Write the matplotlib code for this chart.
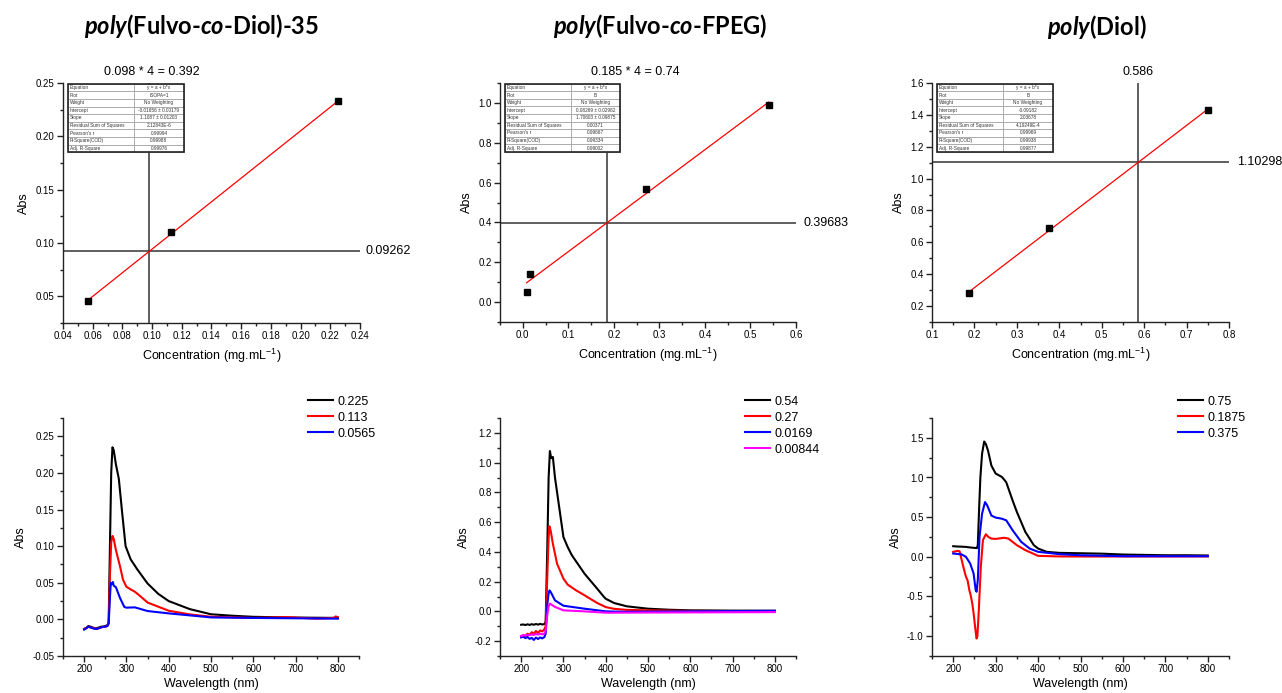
import matplotlib
matplotlib.use("Agg")
import matplotlib.pyplot as plt
from matplotlib.ticker import MultipleLocator, FormatStrFormatter
from matplotlib.patches import Rectangle

plt.rcParams['font.family'] = ['Liberation Sans', 'DejaVu Sans']
plt.rcParams['axes.unicode_minus'] = False
plt.rcParams['mathtext.fontset'] = 'custom'
plt.rcParams['mathtext.rm'] = 'Liberation Sans'
plt.rcParams['mathtext.it'] = 'Liberation Sans:italic'
plt.rcParams['mathtext.bf'] = 'Lato:bold'
plt.rcParams['mathtext.bfit'] = 'Lato:italic:bold'

W, H = 1282, 693

# ---------------- calibration data ----------------
titles = [r"$\mathbfit{poly}$(Fulvo-$\mathbfit{co}$-Diol)-35",
          r"$\mathbfit{poly}$(Fulvo-$\mathbfit{co}$-FPEG)",
          r"$\mathbfit{poly}$(Diol)"]

conc_1 = [0.0565, 0.113, 0.225]
abs_1 = [0.0455, 0.110, 0.233]
fit_1 = (-0.01656, 1.1087)
cross_1 = (0.098, 0.09262)
note_1 = "0.098 * 4 = 0.392"
table_1 = [["Equation", "y = a + b*x"], ["Plot", "ISOPA=1"], ["Weight", "No Weighting"],
           ["Intercept", "-0.01656 ± 0.00179"], ["Slope", "1.1087 ± 0.01203"],
           ["Residual Sum of Squares", "2.12843E-6"], ["Pearson's r", "0.99994"],
           ["R-Square(COD)", "0.99988"], ["Adj. R-Square", "0.99976"]]

conc_2 = [0.00844, 0.0169, 0.27, 0.54]
abs_2 = [0.053, 0.143, 0.570, 0.990]
fit_2 = (0.08269, 1.70603)
cross_2 = (0.185, 0.39683)
note_2 = "0.185 * 4 = 0.74"
table_2 = [["Equation", "y = a + b*x"], ["Plot", "B"], ["Weight", "No Weighting"],
           ["Intercept", "0.08269 ± 0.02982"], ["Slope", "1.70603 ± 0.09875"],
           ["Residual Sum of Squares", "0.00371"], ["Pearson's r", "0.99667"],
           ["R-Square(COD)", "0.99334"], ["Adj. R-Square", "0.99002"]]

conc_3 = [0.1875, 0.375, 0.75]
abs_3 = [0.280, 0.690, 1.430]
fit_3 = (-0.09182, 2.03678)
cross_3 = (0.586, 1.10298)
note_3 = "0.586"
table_3 = [["Equation", "y = a + b*x"], ["Plot", "B"], ["Weight", "No Weighting"],
           ["Intercept", "-0.09182"], ["Slope", "2.03678"],
           ["Residual Sum of Squares", "4.19249E-4"], ["Pearson's r", "0.99969"],
           ["R-Square(COD)", "0.99938"], ["Adj. R-Square", "0.99877"]]

# ---------------- spectra ----------------
# poly(Fulvo-co-Diol)-35
s1_labels = ["0.225", "0.113", "0.0565"]
s1_colors = ["black", "red", "blue"]
s1_wl = [
    [200, 205, 210, 215, 220, 225, 230, 235, 240, 245, 250, 255, 258, 261, 264, 267, 270, 275, 282, 290, 298, 310,
     326, 350, 375, 400, 450, 500, 550, 600, 700, 800],
    [200, 205, 210, 215, 220, 225, 230, 235, 240, 245, 250, 255, 258, 261, 264, 267, 270, 275, 285, 292, 300, 310,
     320, 330, 350, 400, 450, 500, 600, 680, 750, 790, 795, 800],
    [200, 205, 210, 215, 220, 225, 230, 235, 240, 245, 250, 255, 258, 261, 263, 265, 268, 270, 275, 285, 295, 300,
     320, 350, 400, 500, 600, 800],
]
s1_abs = [
    [-0.013, -0.012, -0.009, -0.010, -0.011, -0.012, -0.012, -0.011, -0.010, -0.010, -0.009, -0.008, -0.004, 0.10,
     0.20, 0.235, 0.231, 0.212, 0.192, 0.145, 0.100, 0.082, 0.068, 0.049, 0.035, 0.025, 0.014, 0.007, 0.005, 0.0035,
     0.0025, 0.002],
    [-0.013, -0.012, -0.010, -0.011, -0.012, -0.012, -0.013, -0.012, -0.011, -0.010, -0.010, -0.009, -0.005, 0.06,
     0.105, 0.114, 0.110, 0.095, 0.072, 0.054, 0.0445, 0.041, 0.0377, 0.033, 0.023, 0.0118, 0.0068, 0.0036, 0.002,
     0.003, 0.001, 0.002, 0.004, 0.003],
    [-0.014, -0.012, -0.010, -0.011, -0.012, -0.013, -0.013, -0.012, -0.011, -0.010, -0.010, -0.009, -0.006, 0.03,
     0.050, 0.048, 0.051, 0.046, 0.044, 0.029, 0.017, 0.016, 0.0164, 0.0114, 0.0082, 0.0027, 0.002, 0.001],
]

# poly(Fulvo-co-FPEG)
s2_labels = ["0.54", "0.27", "0.0169", "0.00844"]
s2_colors = ["black", "red", "blue", "magenta"]
s2_wl = [
    [200, 205, 210, 215, 220, 225, 230, 235, 240, 245, 250, 255, 258, 262, 265, 268, 271, 275, 280, 290, 300, 310,
     320, 350, 380, 395, 400, 420, 450, 500, 550, 600, 700, 800],
    [200, 205, 210, 215, 220, 225, 230, 235, 240, 245, 250, 255, 258, 262, 265, 267, 270, 275, 285, 300, 310, 330,
     350, 380, 400, 420, 450, 500, 600, 800],
    [200, 205, 210, 215, 220, 225, 230, 235, 240, 245, 250, 255, 258, 262, 265, 267, 270, 280, 300, 320, 350, 400,
     450, 500, 800],
    [200, 205, 210, 215, 220, 225, 230, 235, 240, 245, 250, 255, 258, 262, 265, 268, 272, 280, 300, 350, 400, 500,
     800],
]
s2_abs = [
    [-0.090, -0.088, -0.092, -0.087, -0.091, -0.086, -0.090, -0.085, -0.089, -0.084, -0.088, -0.086, -0.07, 0.45,
     0.90, 1.078, 1.030, 1.038, 0.90, 0.70, 0.50, 0.433, 0.377, 0.253, 0.152, 0.100, 0.085, 0.056, 0.034, 0.018,
     0.011, 0.007, 0.005, 0.004],
    [-0.170, -0.160, -0.165, -0.150, -0.158, -0.140, -0.150, -0.132, -0.145, -0.128, -0.135, -0.120, -0.10, 0.25,
     0.50, 0.572, 0.540, 0.455, 0.320, 0.220, 0.180, 0.141, 0.108, 0.056, 0.029, 0.017, 0.010, 0.007, 0.003, 0.002],
    [-0.175, -0.170, -0.180, -0.172, -0.185, -0.178, -0.192, -0.176, -0.186, -0.175, -0.182, -0.172, -0.15, 0.05,
     0.12, 0.141, 0.130, 0.074, 0.038, 0.030, 0.018, 0.000, -0.003, -0.002, 0.004],
    [-0.165, -0.162, -0.160, -0.158, -0.160, -0.155, -0.158, -0.152, -0.156, -0.150, -0.155, -0.150, -0.13, -0.02,
     0.035, 0.052, 0.045, 0.030, 0.007, 0.000, -0.009, -0.008, -0.005],
]

# poly(Diol)
s3_labels = ["0.75", "0.1875", "0.375"]
s3_colors = ["black", "red", "blue"]
s3_wl = [
    [200, 210, 220, 230, 240, 250, 256, 258, 261, 264, 268, 273, 277, 282, 290, 300, 315, 325, 340, 350, 370, 390,
     400, 420, 450, 500, 550, 600, 700, 750, 800],
    [200, 210, 215, 220, 225, 230, 234, 238, 241, 245, 248, 252, 255, 257, 260, 265, 270, 277, 283, 290, 300, 320,
     330, 350, 370, 400, 450, 500, 800],
    [200, 210, 220, 230, 240, 248, 253, 255, 258, 262, 268, 275, 280, 290, 300, 315, 325, 340, 360, 380, 400, 450,
     500, 600, 800],
]
s3_abs = [
    [0.134, 0.130, 0.128, 0.125, 0.118, 0.113, 0.110, 0.15, 0.60, 1.00, 1.30, 1.454, 1.420, 1.340, 1.150, 1.050,
     1.006, 0.940, 0.710, 0.566, 0.314, 0.147, 0.105, 0.063, 0.050, 0.045, 0.040, 0.029, 0.020, 0.020, 0.017],
    [0.063, 0.075, 0.070, -0.040, -0.150, -0.250, -0.300, -0.420, -0.480, -0.590, -0.710, -0.900, -1.030, -1.000,
     -0.710, -0.130, 0.210, 0.285, 0.250, 0.230, 0.226, 0.240, 0.230, 0.147, 0.084, 0.0126, 0.005, 0.004, 0.005],
    [0.042, 0.036, 0.030, 0.000, -0.084, -0.210, -0.420, -0.440, -0.290, 0.250, 0.545, 0.690, 0.650, 0.520, 0.495,
     0.480, 0.460, 0.335, 0.190, 0.105, 0.063, 0.034, 0.020, 0.008, 0.008],
]


def px_axes(l, t, r, b):
    return fig.add_axes([l / W, 1 - b / H, (r - l) / W, (b - t) / H])


def style(ax, xmaj, xmin, ymaj, ymin, xfmt, yfmt):
    for s in ['top', 'right']:
        ax.spines[s].set_visible(False)
    for s in ['left', 'bottom']:
        ax.spines[s].set_linewidth(1.0)
        ax.spines[s].set_color('#222222')
    ax.xaxis.set_major_locator(MultipleLocator(xmaj))
    ax.xaxis.set_minor_locator(MultipleLocator(xmin))
    ax.yaxis.set_major_locator(MultipleLocator(ymaj))
    ax.yaxis.set_minor_locator(MultipleLocator(ymin))
    ax.xaxis.set_major_formatter(FormatStrFormatter(xfmt))
    ax.yaxis.set_major_formatter(FormatStrFormatter(yfmt))
    ax.tick_params(which='major', direction='out', length=4, width=1, labelsize=7, pad=2, color='#222222')
    ax.tick_params(which='minor', direction='out', length=2, width=1, color='#222222')


def calib(ax, conc, absb, fit, cross, note, note_x, table, xlim, ylim):
    ax.set_xlim(*xlim)
    ax.set_ylim(*ylim)
    a, b = fit
    xs = [conc[0], conc[-1]]
    ax.plot(xs, [a + b * x for x in xs], color='red', lw=0.9, zorder=3)
    ax.plot(conc, absb, 's', color='black', ms=5, zorder=4)
    ax.axvline(cross[0], color='#333333', lw=1.1, zorder=2)
    ax.axhline(cross[1], color='#333333', lw=1.1, zorder=2)
    ax.text(note_x, 1.046, note, transform=ax.transAxes, ha='center', va='center', fontsize=9)
    ax.set_xlabel(r"Concentration (mg.mL$^{-1}$)", fontsize=9, labelpad=4)
    ax.set_ylabel("Abs", fontsize=9, labelpad=4)
    tb = ax.table(cellText=table, bbox=[0.017, 0.712, 0.39, 0.285], colWidths=[0.57, 0.43], zorder=6)
    tb.auto_set_font_size(False)
    for (r, c), cell in tb.get_celld().items():
        cell.set_fontsize(3.4)
        cell.set_edgecolor('#999999')
        cell.set_linewidth(0.5)
        cell.set_facecolor('white')
        cell.PAD = 0.03
        cell.get_text().set_ha('left' if c == 0 else 'center')
        cell.get_text().set_color('#333333')
    ax.add_patch(Rectangle((0.017, 0.712), 0.39, 0.285, transform=ax.transAxes, fill=False,
                           ec='#222222', lw=1.2, zorder=7, clip_on=False))


fig = plt.figure(figsize=(W / 100, H / 100), dpi=100)
fig.patch.set_facecolor('white')

# titles
for t, (x, y) in zip(titles, [(202, 26), (660, 26), (1097, 27)]):
    fig.text(x / W, 1 - y / H, t, ha='center', va='center', fontsize=17, fontweight='bold', family='Lato')

# top row
ax1 = px_axes(63, 83, 360, 323)
calib(ax1, conc_1, abs_1, fit_1, cross_1, note_1, 0.30, table_1, (0.04, 0.24), (0.025, 0.25))
style(ax1, 0.02, 0.01, 0.05, 0.025, '%.2f', '%.2f')
ax1.text(1.02, cross_1[1], "0.09262", transform=ax1.get_yaxis_transform(), ha='left', va='center', fontsize=9)

ax2 = px_axes(500, 83, 796, 322)
calib(ax2, conc_2, abs_2, fit_2, cross_2, note_2, 0.456, table_2, (-0.05, 0.6), (-0.1, 1.1))
style(ax2, 0.1, 0.05, 0.2, 0.1, '%.1f', '%.1f')
ax2.text(1.024, cross_2[1], "0.39683", transform=ax2.get_yaxis_transform(), ha='left', va='center', fontsize=9)

ax3 = px_axes(932, 83, 1229, 322)
calib(ax3, conc_3, abs_3, fit_3, cross_3, note_3, 0.694, table_3, (0.1, 0.8), (0.1, 1.6))
style(ax3, 0.1, 0.05, 0.2, 0.1, '%.1f', '%.1f')
ax3.text(1.027, cross_3[1], "1.10298", transform=ax3.get_yaxis_transform(), ha='left', va='center', fontsize=9)

# bottom row
spectra = [
    ((63, 418, 359, 656), s1_wl, s1_abs, s1_labels, s1_colors, (-0.05, 0.275), 0.05, 0.025, '%.2f'),
    ((500, 418, 796, 656), s2_wl, s2_abs, s2_labels, s2_colors, (-0.3, 1.3), 0.2, 0.1, '%.1f'),
    ((932, 418, 1229, 656), s3_wl, s3_abs, s3_labels, s3_colors, (-1.25, 1.75), 0.5, 0.25, '%.1f'),
]
for box, wls, ys, labels, colors, ylim, ymaj, ymin, yfmt in spectra:
    ax = px_axes(*box)
    for wl, y, lab, col in zip(wls, ys, labels, colors):
        ax.plot(wl, y, color=col, lw=1.5, label=lab)
    ax.set_xlim(150, 850)
    ax.set_ylim(*ylim)
    style(ax, 100, 50, ymaj, ymin, '%d', yfmt)
    ax.set_xlabel("Wavelength (nm)", fontsize=9, labelpad=3)
    ax.set_ylabel("Abs", fontsize=9, labelpad=4)
    ax.legend(loc='upper left', bbox_to_anchor=(0.81, 1.115), frameon=False, fontsize=9,
              handlelength=2.0, handletextpad=0.4, labelspacing=0.32, borderaxespad=0)

fig.savefig("out.png", dpi=100)
plt.close(fig)
